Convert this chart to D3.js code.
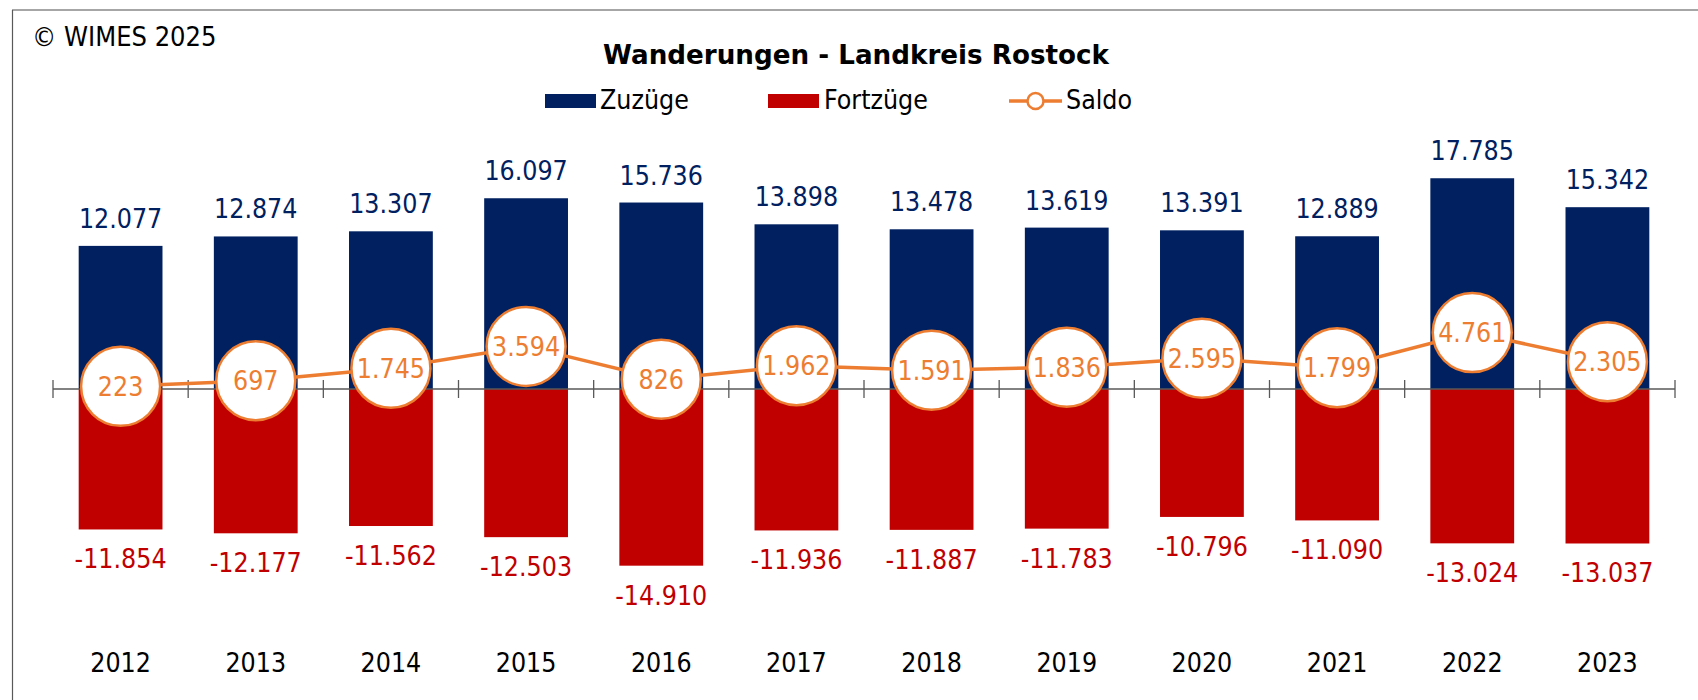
<!DOCTYPE html>
<html>
<head>
<meta charset="utf-8">
<script src="https://cdn.jsdelivr.net/npm/d3@7"></script>
<style>
  body { margin: 0; background: #fff; }
  svg { display: block; font-family: "DejaVu Sans Condensed", "DejaVu Sans", sans-serif; }
</style>
</head>
<body>
<div class="canvas"></div>
<script>
// data (Landkreis Rostock)
const years = ["2012", "2013", "2014", "2015", "2016", "2017", "2018", "2019", "2020", "2021", "2022", "2023"];
const zuzuege = [12077, 12874, 13307, 16097, 15736, 13898, 13478, 13619, 13391, 12889, 17785, 15342];
const fortzuege = [-11854, -12177, -11562, -12503, -14910, -11936, -11887, -11783, -10796, -11090, -13024, -13037];
const saldo = [223, 697, 1745, 3594, 826, 1962, 1591, 1836, 2595, 1799, 4761, 2305];

const colors = { zu: "#002060", fort: "#C00000", saldo: "#ED7D31" };
const dims = { width: 1698, height: 700 };
const fs = 26.5;

const de = d3.formatLocale({ decimal: ",", thousands: ".", grouping: [3], currency: ["", " €"], minus: "-" });
const fmt = de.format(",d");

const svg = d3
  .select(".canvas")
  .append("svg")
  .attr("width", dims.width)
  .attr("height", dims.height);

// frame
svg.append("line")
  .attr("x1", 12).attr("x2", dims.width).attr("y1", 10).attr("y2", 10)
  .attr("stroke", "#a6a6a6").attr("stroke-width", 2);
svg.append("line")
  .attr("x1", 12.5).attr("x2", 12.5).attr("y1", 10).attr("y2", dims.height)
  .attr("stroke", "#595959").attr("stroke-width", 1.2);

svg.append("text")
  .attr("x", 32).attr("y", 46)
  .attr("font-size", 27)
  .text("© WIMES 2025");

svg.append("text")
  .attr("x", 856).attr("y", 64)
  .attr("text-anchor", "middle")
  .attr("font-family", "DejaVu Sans")
  .attr("font-weight", "bold")
  .attr("font-size", 26.2)
  .text("Wanderungen - Landkreis Rostock");

// scales
const x = d3.scaleBand()
  .domain(years)
  .range([53, 1675])
  .paddingInner(0.38)
  .paddingOuter(0.19);

const y = d3.scaleLinear()
  .domain([-20000, 20000])
  .range([626, 152]);

const gap = (x.step() - x.bandwidth()) / 2;
const cx = (d) => x(d) + x.bandwidth() / 2;

// bars
const chart = svg.append("g");

chart.selectAll("rect.zu")
  .data(years)
  .enter()
  .append("rect")
  .attr("class", "zu")
  .attr("x", (d) => x(d))
  .attr("width", x.bandwidth())
  .attr("y", (d, i) => y(zuzuege[i]))
  .attr("height", (d, i) => y(0) - y(zuzuege[i]))
  .attr("fill", colors.zu);

chart.selectAll("rect.fort")
  .data(years)
  .enter()
  .append("rect")
  .attr("class", "fort")
  .attr("x", (d) => x(d))
  .attr("width", x.bandwidth())
  .attr("y", y(0))
  .attr("height", (d, i) => y(fortzuege[i]) - y(0))
  .attr("fill", colors.fort);

// category axis at zero, ticks between categories
const bounds = years.map((d) => x(d) - gap).concat([x(years[years.length - 1]) + x.bandwidth() + gap]);
const axis = svg.append("g").attr("stroke", "#595959").attr("stroke-width", 1.3);
axis.append("line")
  .attr("x1", bounds[0]).attr("x2", bounds[bounds.length - 1])
  .attr("y1", y(0)).attr("y2", y(0));
axis.selectAll("line.tick")
  .data(bounds)
  .enter()
  .append("line")
  .attr("class", "tick")
  .attr("x1", (d) => d).attr("x2", (d) => d)
  .attr("y1", y(0) - 9).attr("y2", y(0) + 9);

// bar labels
svg.selectAll("text.zu")
  .data(years)
  .enter()
  .append("text")
  .attr("x", cx)
  .attr("y", (d, i) => y(zuzuege[i]) - 18)
  .attr("text-anchor", "middle")
  .attr("font-size", fs)
  .attr("fill", colors.zu)
  .text((d, i) => fmt(zuzuege[i]));

svg.selectAll("text.fort")
  .data(years)
  .enter()
  .append("text")
  .attr("x", cx)
  .attr("y", (d, i) => y(fortzuege[i]) + 39)
  .attr("text-anchor", "middle")
  .attr("font-size", fs)
  .attr("fill", colors.fort)
  .text((d, i) => fmt(fortzuege[i]));

svg.selectAll("text.year")
  .data(years)
  .enter()
  .append("text")
  .attr("x", cx)
  .attr("y", 672)
  .attr("text-anchor", "middle")
  .attr("font-size", fs)
  .attr("fill", "#000")
  .text((d) => d);

// saldo line with big circle markers
const line = d3.line()
  .x((d) => cx(d))
  .y((d, i) => y(saldo[i]));

svg.append("path")
  .datum(years)
  .attr("d", line)
  .attr("fill", "none")
  .attr("stroke", colors.saldo)
  .attr("stroke-width", 3.5);

const marks = svg.selectAll("g.saldo")
  .data(years)
  .enter()
  .append("g")
  .attr("transform", (d, i) => `translate(${cx(d)}, ${y(saldo[i])})`);

marks.append("circle")
  .attr("r", 39.5)
  .attr("fill", "#fff")
  .attr("stroke", colors.saldo)
  .attr("stroke-width", 2.5);

marks.append("text")
  .attr("text-anchor", "middle")
  .attr("y", 9.5)
  .attr("font-size", fs)
  .attr("fill", colors.saldo)
  .text((d, i) => fmt(saldo[i]));

// legend
const legend = svg.append("g").attr("font-size", 26.5);

legend.append("rect")
  .attr("x", 545).attr("y", 94).attr("width", 51).attr("height", 14)
  .attr("fill", colors.zu);
legend.append("text").attr("x", 600).attr("y", 109).text("Zuzüge");

legend.append("rect")
  .attr("x", 768).attr("y", 94).attr("width", 51).attr("height", 14)
  .attr("fill", colors.fort);
legend.append("text").attr("x", 824).attr("y", 109).text("Fortzüge");

legend.append("line")
  .attr("x1", 1009).attr("x2", 1062).attr("y1", 101).attr("y2", 101)
  .attr("stroke", colors.saldo).attr("stroke-width", 3.5);
legend.append("circle")
  .attr("cx", 1035.5).attr("cy", 101).attr("r", 8)
  .attr("fill", "#fff").attr("stroke", colors.saldo).attr("stroke-width", 2.5);
legend.append("text").attr("x", 1066).attr("y", 109).text("Saldo");
</script>
</body>
</html>
